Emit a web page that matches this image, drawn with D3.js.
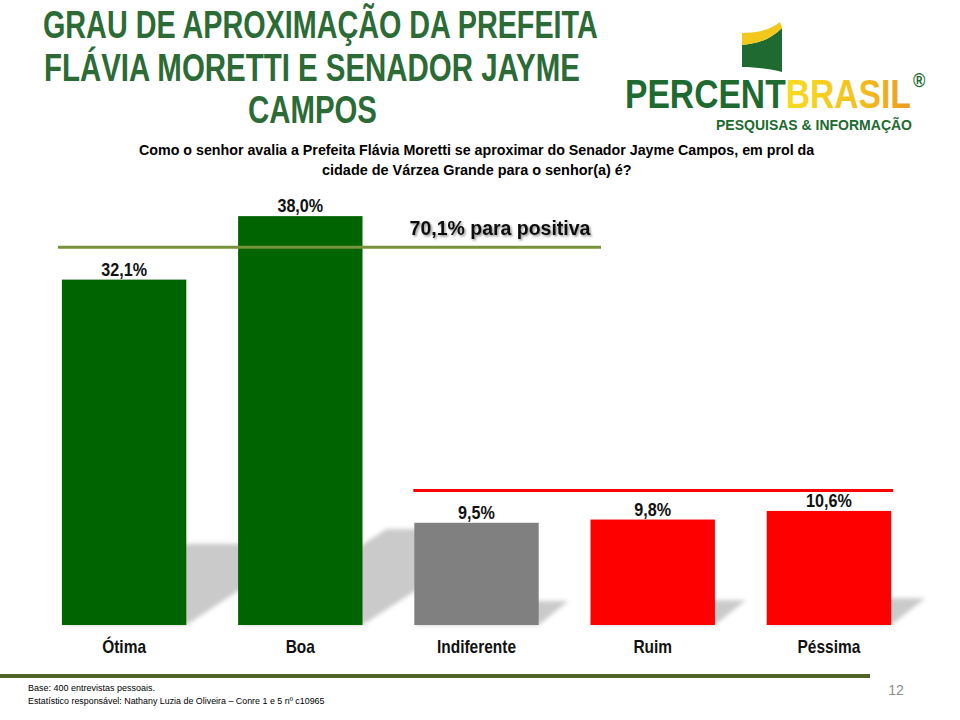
<!DOCTYPE html>
<html><head><meta charset="utf-8">
<script src="https://cdn.jsdelivr.net/npm/d3@7"></script>
<style>
html,body{margin:0;padding:0;background:#fff;}
svg{display:block;}
</style></head>
<body>
<svg id="chart" width="960" height="720"></svg>
<script>
// ---------- data ----------
const categories = ["Ótima", "Boa", "Indiferente", "Ruim", "Péssima"];
const values = [32.1, 38.0, 9.5, 9.8, 10.6];
const groups = ["positiva", "positiva", "indiferente", "negativa", "negativa"];
const titleLines = ["GRAU DE APROXIMAÇÃO DA PREFEITA", "FLÁVIA MORETTI E SENADOR JAYME", "CAMPOS"];
const questionLines = [
  "Como o senhor avalia a Prefeita Flávia Moretti se aproximar do Senador Jayme Campos, em prol da",
  "cidade de Várzea Grande para o senhor(a) é?"
];
const footerLines = [
  "Base: 400 entrevistas pessoais.",
  "Estatístico responsável: Nathany Luzia de Oliveira – Conre 1 e 5 nº c10965"
];
const logoWords = ["PERCENT", "BRASIL", "PESQUISAS & INFORMAÇÃO"];
const pageNumber = "12";
const positiveRuleLevel = 35.1;
const negativeRuleLevel = 12.5;

// ---------- setup ----------
const svg = d3.select("#chart");
const FONT = "'Liberation Sans', Arial, sans-serif";
const groupColor = { positiva: "#006400", indiferente: "#808080", negativa: "#FF0000" };
const fmt = v => d3.format(".1f")(v).replace(".", ",") + "%";

// text helper: condensed horizontally by scale transform (either to a target width or by a factor)
function addText(parent, o) {
  const t = parent.append("text")
    .attr("x", 0).attr("y", 0)
    .attr("text-anchor", o.anchor || "start")
    .attr("font-family", FONT)
    .attr("font-weight", o.weight || "normal")
    .attr("font-size", o.size)
    .attr("fill", o.fill || "#000")
    .text(o.text);
  if (o.filter) t.attr("filter", o.filter);
  let k = o.k || 1;
  if (o.width) k = o.width / t.node().getComputedTextLength();
  t.attr("transform", `translate(${o.x},${o.y}) scale(${k},1)`);
  return t;
}

const defs = svg.append("defs");
defs.append("filter").attr("id", "blur").attr("x", "-20%").attr("y", "-20%").attr("width", "140%").attr("height", "140%")
  .append("feGaussianBlur").attr("stdDeviation", 2.2);
const ds = defs.append("filter").attr("id", "tshadow").attr("x", "-10%").attr("y", "-30%").attr("width", "130%").attr("height", "170%");
ds.append("feDropShadow").attr("dx", 1.5).attr("dy", 1.5).attr("stdDeviation", 1).attr("flood-color", "#000").attr("flood-opacity", 0.45);

// ---------- title ----------
const titleG = svg.append("g");
const titleX = [43, 44, 248], titleLen = [555, 536, 129], titleY = [38, 81, 123];
titleLines.forEach((line, i) => addText(titleG, {
  x: titleX[i], y: titleY[i], width: titleLen[i], text: line, size: 39, weight: "bold", fill: "#2C6B36"
}));

// question
const qG = svg.append("g");
const qX = [139, 322], qLen = [676, 310], qY = [155, 175];
questionLines.forEach((line, i) => addText(qG, {
  x: qX[i], y: qY[i], width: qLen[i], text: line, size: 15.5, weight: "bold", fill: "#000"
}));

// ---------- logo ----------
const logo = svg.append("g");
logo.append("path").attr("d", "M742,45 C756,44 770,40 782,28 L782,72 C770,69 756,67 742,67 Z").attr("fill", "#1E6A30");
logo.append("path").attr("d", "M742,33 C758,33 770,30 780,22 L782,28 C770,40 756,44 742,45 Z").attr("fill", "#F2C81C");
(function () {
  const base = 107.5;
  const lt = logo.append("text").attr("x", 0).attr("y", 0)
    .attr("font-family", FONT).attr("font-weight", "bold");
  const t1 = lt.append("tspan").attr("font-size", 40).attr("fill", "#1E6A30").text(logoWords[0]);
  const t2 = lt.append("tspan").attr("font-size", 40).text(logoWords[1]);
  const w1 = t1.node().getComputedTextLength(), w2 = t2.node().getComputedTextLength();
  const k = 286 / (w1 + w2);
  const g = defs.append("linearGradient").attr("id", "brasilGrad").attr("gradientUnits", "userSpaceOnUse")
    .attr("x1", w1).attr("x2", w1 + w2).attr("y1", 0).attr("y2", 0);
  g.append("stop").attr("offset", "0%").attr("stop-color", "#F7DC1F");
  g.append("stop").attr("offset", "55%").attr("stop-color", "#F4C21E");
  g.append("stop").attr("offset", "100%").attr("stop-color", "#EE9A1D");
  t2.attr("fill", "url(#brasilGrad)");
  lt.append("tspan").attr("font-size", 15).attr("fill", "#1E6A30")
    .attr("x", (716 - 625) / k).attr("y", 130 - base)
    .attr("textLength", 196 / k).attr("lengthAdjust", "spacingAndGlyphs")
    .text(logoWords[2]);
  lt.append("tspan").attr("font-size", 20).attr("fill", "#1E6A30")
    .attr("x", (913 - 625) / k).attr("y", 87 - base).text("®");
  lt.attr("transform", `translate(625,${base}) scale(${k},1)`);
})();

// ---------- scales ----------
const x = d3.scaleBand().domain(categories).range([36, 917]).paddingInner(0.294).paddingOuter(0.147);
const y = d3.scaleLinear().domain([0, 40]).range([625, 194.6]);
const bw = x.bandwidth();
const data = categories.map((c, i) => ({ cat: c, value: values[i], group: groups[i] }));

// shadows
svg.append("g").attr("filter", "url(#blur)").selectAll("polygon").data(data).join("polygon")
  .attr("points", d => {
    const x0 = x(d.cat), x1 = x0 + bw, base = y(0);
    const h = (y(0) - y(d.value)) * 0.235, s = Math.max(0, h * 1.65 - 10);
    return [[x0, base], [x1, base], [x1 + s, base - h], [x0 + s, base - h]].map(p => p.join(",")).join(" ");
  })
  .attr("fill", "#CACACA");

// bars
svg.append("g").selectAll("rect").data(data).join("rect")
  .attr("x", d => x(d.cat)).attr("y", d => y(d.value))
  .attr("width", bw).attr("height", d => y(0) - y(d.value))
  .attr("fill", d => groupColor[d.group]);

// value labels
const vG = svg.append("g");
data.forEach(d => addText(vG, {
  x: x(d.cat) + bw / 2, y: y(d.value) - 4, anchor: "middle", k: 0.85,
  text: fmt(d.value), size: 19, weight: "bold", fill: "#111"
}));

// category axis labels
const xAxis = d3.axisBottom(x).tickSize(0).tickPadding(0);
const ax = svg.append("g").attr("transform", `translate(0,${y(0)})`).call(xAxis);
ax.select(".domain").remove();
ax.selectAll("text")
  .attr("y", 0).attr("dy", 0)
  .attr("transform", "translate(0,28) scale(0.86,1)")
  .attr("x", 0)
  .attr("font-family", FONT).attr("font-weight", "bold")
  .attr("font-size", 18).attr("fill", "#111");

// ---------- annotation rules ----------
const posTotal = d3.sum(data.filter(d => d.group === "positiva"), d => d.value);
svg.append("line").attr("x1", x(categories[0]) - 4).attr("x2", 601)
  .attr("y1", y(positiveRuleLevel)).attr("y2", y(positiveRuleLevel))
  .attr("stroke", "#77933C").attr("stroke-width", 3);
addText(svg, {
  x: 500, y: y(positiveRuleLevel) - 12, anchor: "middle", width: 181,
  text: fmt(posTotal) + " para positiva", size: 21, weight: "bold", fill: "#111", filter: "url(#tshadow)"
});
svg.append("line").attr("x1", x("Indiferente") - 1).attr("x2", x(categories[categories.length - 1]) + bw + 2)
  .attr("y1", y(negativeRuleLevel)).attr("y2", y(negativeRuleLevel))
  .attr("stroke", "#FF0000").attr("stroke-width", 3);

// ---------- footer ----------
svg.append("rect").attr("x", 0).attr("y", 674).attr("width", 870).attr("height", 4).attr("fill", "#4F6228");
const fG = svg.append("g");
const fLen = [127, 297], fY = [691, 704];
footerLines.forEach((line, i) => addText(fG, { x: 28, y: fY[i], width: fLen[i], text: line, size: 9.5, fill: "#000" }));
addText(svg, { x: 896, y: 695, anchor: "middle", text: pageNumber, size: 14, fill: "#8C8C8C" });
</script>
</body></html>
